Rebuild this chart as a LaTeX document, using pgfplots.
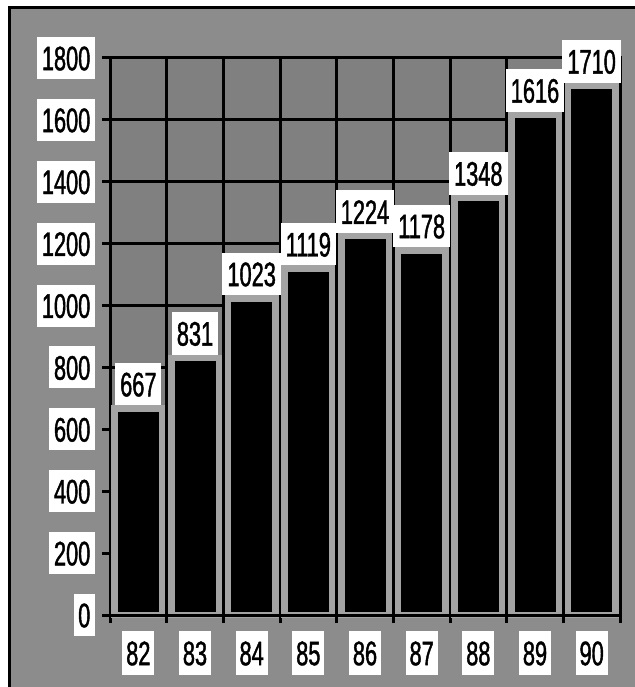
\documentclass[border=0pt]{standalone}
\usepackage{pgfplots}
\pgfplotsset{compat=1.18}
\usepackage{fontspec}
\setmainfont{Liberation Sans}[FakeStretch=0.64, FakeBold=1.2]
\definecolor{outergrey}{gray}{0.55}
\definecolor{innergrey}{gray}{0.50}
\definecolor{halogrey}{gray}{0.64}
\newcommand{\bigf}{\fontsize{34pt}{34pt}\selectfont}
\begin{document}
\begin{tikzpicture}
\useasboundingbox (-110pt,-72pt) rectangle (524pt,615pt);
\fill[outergrey] (-100pt,-80pt) rectangle (530pt,607pt);
\draw[line width=3pt] (-100pt,-80pt) -- (-100pt,607pt) -- (530pt,607pt);
\begin{axis}[
  at={(0pt,0pt)}, anchor=south west,
  scale only axis, width=510pt, height=557pt,
  xmin=-0.5, xmax=8.5, ymin=0, ymax=1800,
  clip=false,
  axis background/.style={fill=innergrey},
  axis line style={line width=3pt, black},
  /pgf/number format/1000 sep={},
  /pgf/number format/assume math mode=true,
  tick align=outside, major tick length=8pt,
  xtick pos=bottom, ytick pos=left,
  tick style={line width=3pt, black},
  ytick={0,200,...,1800},
  xtick={-0.5,0.5,...,8.5},
  xticklabels={},
  xmajorgrids, ymajorgrids,
  grid style={line width=3pt, black},
  yticklabel style={font=\bigf, fill=white, inner xsep=4.5pt, inner ysep=8.75pt,
     text height=24.5pt, text depth=0pt, anchor=east, xshift=-7pt},
  extra x ticks={0,1,2,3,4,5,6,7,8},
  extra x tick labels={82,83,84,85,86,87,88,89,90},
  extra x tick style={grid=none, major tick length=0pt,
     tick label style={font=\bigf, fill=white, inner xsep=4pt, inner ysep=9.5pt,
     text height=24.5pt, text depth=0pt, anchor=north, yshift=-16pt}},
]
\addplot[ybar, bar width=47.5pt, fill=black, draw=halogrey, line width=6.5pt,
  nodes near coords,
  every node near coord/.append style={draw=none, fill=white, text=black, font=\bigf,
     inner xsep=5pt, inner ysep=9pt, text height=24.5pt, text depth=0pt, anchor=south}]
  coordinates {(0,667) (1,831) (2,1023) (3,1119) (4,1224) (5,1178) (6,1348) (7,1616) (8,1710)};
\draw[line width=3pt, black] (axis cs:-0.5,0) -- (axis cs:8.5,0);
\end{axis}
\end{tikzpicture}
\end{document}
